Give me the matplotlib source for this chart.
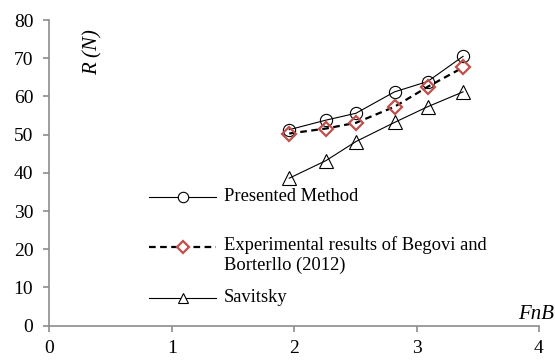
import matplotlib
matplotlib.use('Agg')
import matplotlib.pyplot as plt
from matplotlib.lines import Line2D

plt.rcParams['font.family'] = ['Liberation Serif', 'DejaVu Serif']

# FnB values
fnb = [1.96, 2.26, 2.505, 2.82, 3.09, 3.38]
# resistance R (N)
presented = [51.3, 53.8, 55.6, 61.2, 63.9, 70.5]
experimental = [50.3, 51.6, 53.1, 57.3, 62.5, 67.6]
savitsky = [38.6, 43.2, 48.2, 53.2, 57.3, 61.2]

labels = ['Presented Method',
          'Experimental results of Begovi and\nBorterllo (2012)',
          'Savitsky']

fig = plt.figure(figsize=(5.55, 3.63), dpi=100)
ax = fig.add_axes([0.0888, 0.1028, 0.8823, 0.842])

red = '#c0504d'
styles = [
    dict(color='black', lw=0.8, marker='o', ms=8.8, mfc='none', mec='black', mew=0.8),
    dict(color='black', lw=1.6, ls=(0, (3, 2)), marker='D', ms=7, mfc='none', mec=red, mew=1.6),
    dict(color='black', lw=0.8, marker='^', ms=9.5, mfc='none', mec='black', mew=0.8),
]
for ys_, st in zip([presented, experimental, savitsky], styles):
    ax.plot(fnb, ys_, **st)

ax.set_xlim(0, 4)
ax.set_ylim(0, 80)
ax.set_xticks([0, 1, 2, 3, 4])
ax.set_yticks(range(0, 81, 10))

grey = '#8c8c8c'
for s in ['top', 'right']:
    ax.spines[s].set_visible(False)
for s in ['left', 'bottom']:
    ax.spines[s].set_color(grey)
    ax.spines[s].set_linewidth(1.2)
ax.tick_params(direction='out', length=4.5, width=1.2, color=grey,
               labelsize=14, labelcolor='black', pad=6)
ax.tick_params(axis='y', pad=7)

ax.text(0.089, 0.895, 'R (N)', transform=ax.transAxes, rotation=90,
        style='italic', fontsize=15, ha='center', va='center')
ax.text(1.031, 0.035, 'FnB', transform=ax.transAxes,
        style='italic', fontsize=15, ha='right', va='center')

# legend drawn by hand to get the uneven Excel spacing
leg_y = [0.422, 0.2584, 0.0906]
leg_ms = [7.5, 6.5, 7.5]
for lab, st, y, ms in zip(labels, styles, leg_y, leg_ms):
    line_st = {k: v for k, v in st.items() if k in ('color', 'lw', 'ls')}
    ax.add_line(Line2D([0.2036, 0.3404], [y, y], transform=ax.transAxes,
                       clip_on=False, **line_st))
    ax.add_line(Line2D([0.273], [y], transform=ax.transAxes, clip_on=False,
                       ls='none', marker=st['marker'], ms=ms, mfc='white',
                       mec=st['mec'], mew=st['mew']))
    if '\n' in lab:
        ax.text(0.3568, y + 0.036, lab, transform=ax.transAxes, fontsize=13.3,
                ha='left', va='top', linespacing=1.2)
    else:
        ax.text(0.3568, y, lab, transform=ax.transAxes, fontsize=13.3,
                ha='left', va='center')

fig.savefig('out.png', dpi=100)
